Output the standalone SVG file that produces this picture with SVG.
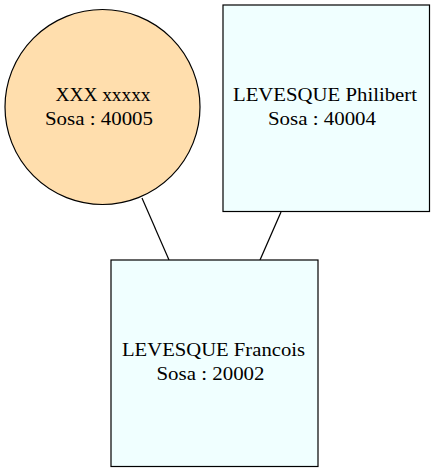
<svg xmlns="http://www.w3.org/2000/svg" width="435" height="472" viewBox="0 0 435 472">
<style>
.n{stroke:#000;stroke-width:1.2}
.sq{fill:#f0ffff}
.ci{fill:#ffdead}
text{font-family:'Liberation Serif','Times New Roman',serif;font-size:18px;fill:#000;text-anchor:middle}
.e{stroke:#000;stroke-width:1.2;fill:none}
</style>
<rect width="435" height="472" fill="#fff"/>
<g id="edges">
<line class="e" x1="142" y1="198" x2="169" y2="260"/>
<line class="e" x1="281" y1="212" x2="260" y2="260"/>
</g>
<g id="n40005">
<circle class="n ci" cx="102.5" cy="107" r="97.5"/>
<text x="103" y="101" textLength="95" lengthAdjust="spacingAndGlyphs">XXX xxxxx</text>
<text x="99" y="125" textLength="108" lengthAdjust="spacingAndGlyphs">Sosa : 40005</text>
</g>
<g id="n40004">
<rect class="n sq" x="223" y="5" width="206.5" height="206.5"/>
<text x="325" y="101" textLength="184" lengthAdjust="spacingAndGlyphs">LEVESQUE Philibert</text>
<text x="322" y="125" textLength="108" lengthAdjust="spacingAndGlyphs">Sosa : 40004</text>
</g>
<g id="n20002">
<rect class="n sq" x="111" y="260" width="207" height="206.5"/>
<text x="213.5" y="356" textLength="183" lengthAdjust="spacingAndGlyphs">LEVESQUE Francois</text>
<text x="210.5" y="380" textLength="108" lengthAdjust="spacingAndGlyphs">Sosa : 20002</text>
</g>
</svg>
